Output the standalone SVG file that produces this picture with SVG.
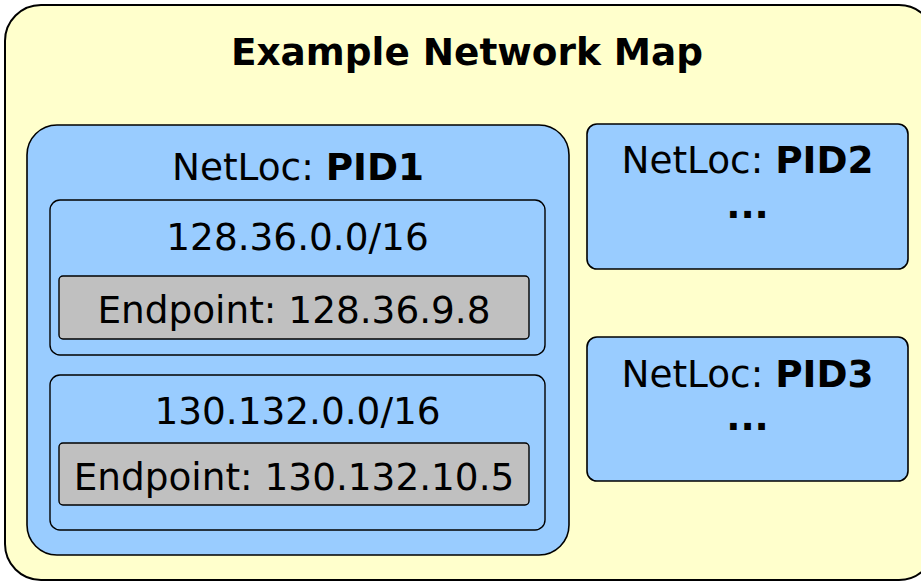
<svg xmlns="http://www.w3.org/2000/svg" width="921" height="583" viewBox="0 0 921 583">
<style>
text{font-family:"DejaVu Sans","Liberation Sans",sans-serif;font-size:37.4px;fill:#000;text-anchor:middle}
.b{font-weight:bold}
.map{fill:#ffffcc;stroke:#000;stroke-width:2}
.loc{fill:#99ccff;stroke:#000;stroke-width:1.6}
.sub{fill:#99ccff;stroke:#000;stroke-width:1.4}
.ep{fill:#c0c0c0;stroke:#000;stroke-width:1.4}
</style>
<g id="map">
<rect class="map" x="5" y="5" width="930" height="575" rx="36"/>
<text class="b" x="467" y="65">Example Network Map</text>
</g>
<g id="pid1">
<rect class="loc" x="27" y="125" width="542" height="430" rx="30"/>
<text x="298" y="180">NetLoc: <tspan class="b">PID1</tspan></text>
</g>
<g id="subnet1">
<rect class="sub" x="50" y="200" width="495" height="155" rx="10"/>
<text x="297.5" y="250">128.36.0.0/16</text>
</g>
<g id="endpoint1">
<rect class="ep" x="59" y="276" width="470" height="63" rx="4"/>
<text x="294" y="323">Endpoint: 128.36.9.8</text>
</g>
<g id="subnet2">
<rect class="sub" x="50" y="375" width="495" height="155" rx="10"/>
<text x="297.5" y="424">130.132.0.0/16</text>
</g>
<g id="endpoint2">
<rect class="ep" x="59" y="443" width="470" height="62" rx="4"/>
<text x="294" y="490">Endpoint: 130.132.10.5</text>
</g>
<g id="pid2">
<rect class="loc" x="587" y="124" width="321" height="145" rx="10"/>
<text x="747.5" y="173">NetLoc: <tspan class="b">PID2</tspan></text>
<text class="b" x="747.5" y="218">...</text>
</g>
<g id="pid3">
<rect class="loc" x="587" y="337" width="321" height="144" rx="10"/>
<text x="747.5" y="387">NetLoc: <tspan class="b">PID3</tspan></text>
<text class="b" x="747.5" y="430">...</text>
</g>
<g id="connectors"/>
</svg>
